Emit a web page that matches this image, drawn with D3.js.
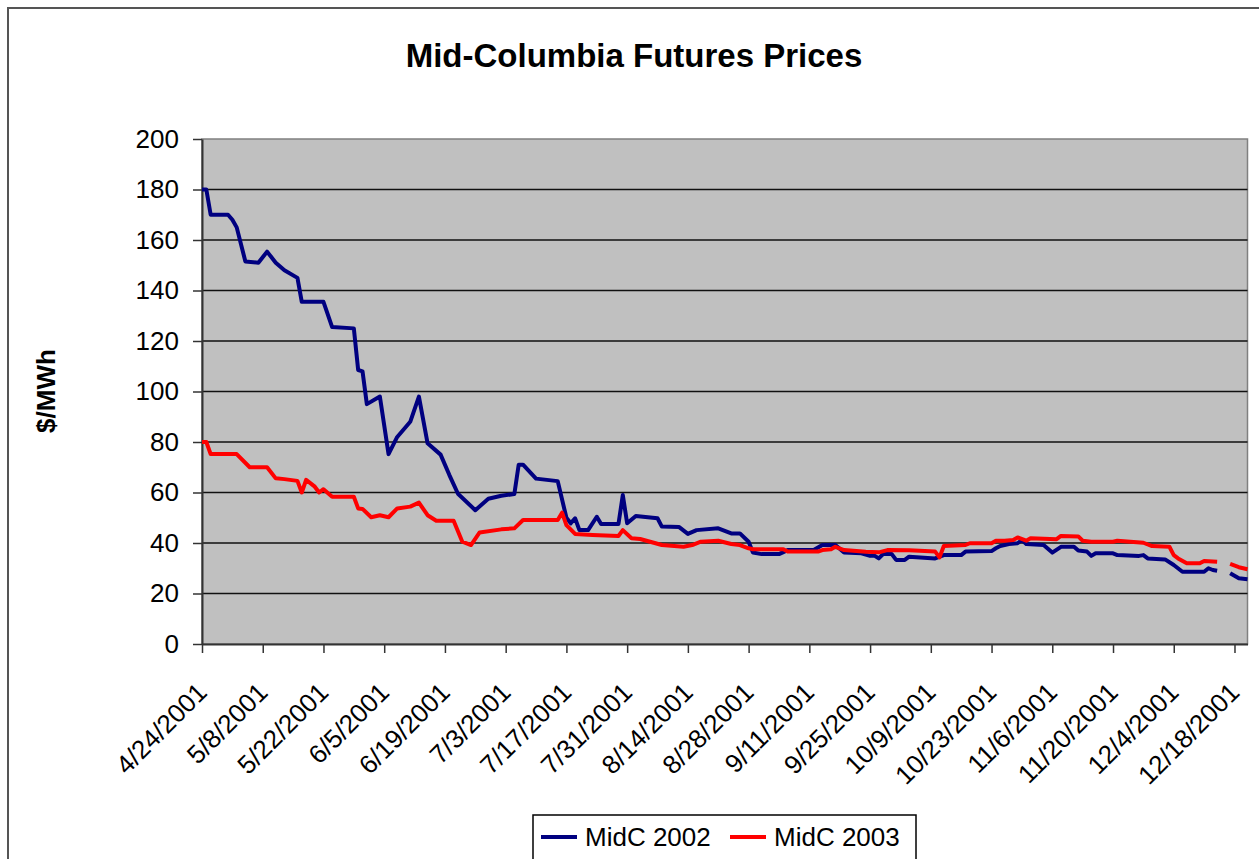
<!DOCTYPE html>
<html>
<head>
<meta charset="utf-8">
<script src="https://cdn.jsdelivr.net/npm/d3@7"></script>
<style>
  body { margin: 0; background: #fff; }
  svg { display: block; font-family: "Liberation Sans", Arial, sans-serif; }
</style>
</head>
<body>
<div id="chart"></div>
<script>
// tick labels on the date axis, every two weeks
const tickLabels = ["4/24/2001", "5/8/2001", "5/22/2001", "6/5/2001", "6/19/2001", "7/3/2001",
  "7/17/2001", "7/31/2001", "8/14/2001", "8/28/2001", "9/11/2001", "9/25/2001", "10/9/2001",
  "10/23/2001", "11/6/2001", "11/20/2001", "12/4/2001", "12/18/2001"];
const yTicks = [0, 20, 40, 60, 80, 100, 120, 140, 160, 180, 200];
const seriesNames = ["MidC 2002", "MidC 2003"];

// [date in 2001, $/MWh], null = no quote
const midc2002 = [["4/24",180],["4/25",180],["4/26",170],["4/30",170],["5/1",168],["5/2",165],["5/4",151.5],
  ["5/7",151],["5/9",155.4],["5/11",151],["5/13",148],["5/16",145],["5/17",135.5],["5/22",135.5],["5/24",125.5],
  ["5/29",125],["5/30",108.5],["5/31",108],["6/1",95],["6/4",98],["6/6",75.2],["6/8",82],["6/11",88],["6/13",98],
  ["6/15",79.5],["6/18",75],["6/20",67],["6/22",59.5],["6/26",53],["6/29",57.5],["7/2",58.7],["7/5",59.4],
  ["7/6",71],["7/7",71],["7/10",65.5],["7/15",64.5],["7/17",50],["7/18",47.8],["7/19",49.8],["7/20",45.1],
  ["7/22",45.1],["7/24",50.4],["7/25",47.5],["7/29",47.5],["7/30",59],["7/31",47.8],["8/2",50.7],["8/7",49.8],
  ["8/8",46.5],["8/12",46.3],["8/14",43.6],["8/16",45.1],["8/21",45.8],["8/24",43.8],["8/26",43.8],["8/28",40.5],
  ["8/29",36.2],["8/31",35.6],["9/4",35.6],["9/6",37.2],["9/12",37.2],["9/14",39.2],["9/17",39.2],["9/19",36.2],
  ["9/23",35.9],["9/25",34.9],["9/26",35],["9/27",33.9],["9/28",35.6],["9/30",35.6],["10/1",33.3],["10/3",33.3],
  ["10/4",34.6],["10/10",33.9],["10/12",35.2],["10/16",35.2],["10/17",36.6],["10/23",36.8],["10/24",37.9],
  ["10/25",38.8],["10/27",39.6],["10/29",39.9],["10/30",41.2],["10/31",39.6],["11/4",39.2],["11/6",36.2],
  ["11/8",38.5],["11/11",38.5],["11/12",37],["11/14",36.6],["11/15",34.9],["11/16",35.9],["11/20",35.9],
  ["11/21",35.2],["11/26",34.9],["11/27",35.2],["11/28",33.9],["12/2",33.5],["12/4",31.3],["12/6",28.6],
  ["12/11",28.6],["12/12",30],["12/13",29.3],["12/14",29],["12/15",null],["12/17",28],["12/19",26],["12/21",25.6]];

const midc2003 = [["4/24",80],["4/25",80],["4/26",75.2],["5/2",75.2],["5/5",70],["5/9",70],["5/11",65.6],
  ["5/13",65.3],["5/16",64.6],["5/17",60],["5/18",65],["5/20",62.3],["5/21",60],["5/22",61.3],["5/24",58.3],
  ["5/29",58.3],["5/30",53.7],["5/31",53.5],["6/2",50.2],["6/4",51],["6/6",50.2],["6/8",53.7],["6/11",54.4],
  ["6/13",56],["6/15",51],["6/17",48.8],["6/21",48.8],["6/23",40.5],["6/25",39.2],["6/27",44.2],["7/2",45.4],
  ["7/5",45.8],["7/7",49.1],["7/15",49.1],["7/16",52],["7/17",47.1],["7/19",43.6],["7/23",43.2],["7/29",42.8],
  ["7/30",45.1],["8/1",41.9],["8/3",41.6],["8/8",39.2],["8/13",38.5],["8/15",39.2],["8/17",40.5],["8/21",40.9],
  ["8/24",39.6],["8/26",39.2],["8/28",37.9],["8/29",37.5],["9/5",37.5],["9/6",36.6],["9/13",36.6],["9/14",37.2],
  ["9/16",37.5],["9/17",38.5],["9/19",37.2],["9/24",36.5],["9/27",36.3],["9/29",37.2],["10/4",37.1],["10/10",36.6],
  ["10/11",34.3],["10/12",38.8],["10/17",39.2],["10/18",39.9],["10/23",39.9],["10/24",40.9],["10/26",40.9],
  ["10/28",41.2],["10/29",42.2],["10/31",40.9],["11/1",41.9],["11/7",41.5],["11/8",42.8],["11/12",42.6],
  ["11/13",40.9],["11/15",40.5],["11/20",40.5],["11/21",40.9],["11/27",40.1],["11/29",38.8],["12/3",38.5],
  ["12/4",35.2],["12/5",33.9],["12/7",32],["12/10",32],["12/11",32.9],["12/14",32.6],["12/15",null],
  ["12/17",31.7],["12/19",30.4],["12/21",29.6]];

const colors = {"MidC 2002": "#000080", "MidC 2003": "#ff0000"};

const parse = d3.utcParse("%m/%d/%Y");
const toPoints = arr => arr.map(d => ({date: parse(d[0] + "/2001"), value: d[1]}));

function drawChart() {
  const width = 1259, height = 859;
  const plot = {left: 202, top: 139, right: 1247.5, bottom: 644};

  const svg = d3.select("#chart").append("svg")
      .attr("width", width)
      .attr("height", height);

  // outer chart border (runs off the picture on the right and bottom)
  svg.append("rect")
      .attr("x", 8).attr("y", 8)
      .attr("width", 1300).attr("height", 900)
      .attr("fill", "#fff")
      .attr("stroke", "#555")
      .attr("stroke-width", 2);

  const x = d3.scaleUtc()
      .domain([parse("4/24/2001"), parse("12/21/2001")])
      .range([plot.left, plot.right]);
  const y = d3.scaleLinear()
      .domain([0, 200])
      .range([plot.bottom, plot.top]);

  // plot area
  svg.append("rect")
      .attr("x", plot.left).attr("y", plot.top)
      .attr("width", plot.right - plot.left)
      .attr("height", plot.bottom - plot.top)
      .attr("fill", "#c0c0c0")
      .attr("stroke", "#808080")
      .attr("stroke-width", 1.5);

  // gridlines
  svg.append("g")
    .selectAll("line")
    .data(yTicks.filter(v => v > 0 && v < 200))
    .join("line")
      .attr("x1", plot.left).attr("x2", plot.right)
      .attr("y1", d => y(d)).attr("y2", d => y(d))
      .attr("stroke", "#111")
      .attr("stroke-width", 1.6);

  // y axis
  const yAxis = svg.append("g")
      .attr("transform", `translate(${plot.left},0)`)
      .call(d3.axisLeft(y).tickValues(yTicks).tickSize(9).tickSizeOuter(0).tickPadding(14));
  yAxis.select(".domain").attr("stroke", "#333").attr("stroke-width", 2);
  yAxis.selectAll(".tick line").attr("stroke", "#333").attr("stroke-width", 1.5);
  yAxis.selectAll("text")
      .style("font-size", "26px")
      .attr("fill", "#000");

  // x axis
  const xAxis = svg.append("g")
      .attr("transform", `translate(0,${plot.bottom})`)
      .call(d3.axisBottom(x)
        .tickValues(tickLabels.map(parse))
        .tickFormat(d3.utcFormat("%-m/%-d/%Y"))
        .tickSize(9).tickSizeOuter(0));
  xAxis.select(".domain").attr("stroke", "#333").attr("stroke-width", 2);
  xAxis.selectAll(".tick line").attr("stroke", "#333").attr("stroke-width", 1.5);
  xAxis.selectAll("text")
      .style("font-size", "26px")
      .attr("fill", "#000")
      .attr("text-anchor", "end")
      .attr("x", 0).attr("y", 0).attr("dy", 0)
      .attr("transform", "translate(6,50) rotate(-45)");

  // series
  const line = d3.line()
      .defined(d => d.value != null)
      .x(d => x(d.date))
      .y(d => y(d.value));

  const series = [
    {name: seriesNames[0], points: toPoints(midc2002)},
    {name: seriesNames[1], points: toPoints(midc2003)}
  ];

  svg.append("g")
    .selectAll("path")
    .data(series)
    .join("path")
      .attr("d", d => line(d.points))
      .attr("fill", "none")
      .attr("stroke", d => colors[d.name])
      .attr("stroke-width", 4)
      .attr("stroke-linejoin", "round");

  // titles
  svg.append("text")
      .attr("x", 634).attr("y", 67)
      .attr("text-anchor", "middle")
      .style("font-size", "33px")
      .style("font-weight", "bold")
      .text("Mid-Columbia Futures Prices");

  svg.append("text")
      .attr("transform", "translate(55,391) rotate(-90)")
      .attr("text-anchor", "middle")
      .style("font-size", "26px")
      .style("font-weight", "bold")
      .text("$/MWh");

  // legend
  const legend = svg.append("g");
  legend.append("rect")
      .attr("x", 533).attr("y", 815)
      .attr("width", 383).attr("height", 52)
      .attr("fill", "#fff")
      .attr("stroke", "#000")
      .attr("stroke-width", 1.5);

  const items = legend.selectAll("g.item")
    .data(seriesNames)
    .join("g")
      .attr("class", "item")
      .attr("transform", (d, i) => `translate(${541 + i * 189},837)`);
  items.append("line")
      .attr("x1", 0).attr("x2", 36)
      .attr("stroke", d => colors[d])
      .attr("stroke-width", 4);
  items.append("text")
      .attr("x", 44).attr("y", 9)
      .style("font-size", "26px")
      .text(d => d);
}

drawChart();
</script>
</body>
</html>
